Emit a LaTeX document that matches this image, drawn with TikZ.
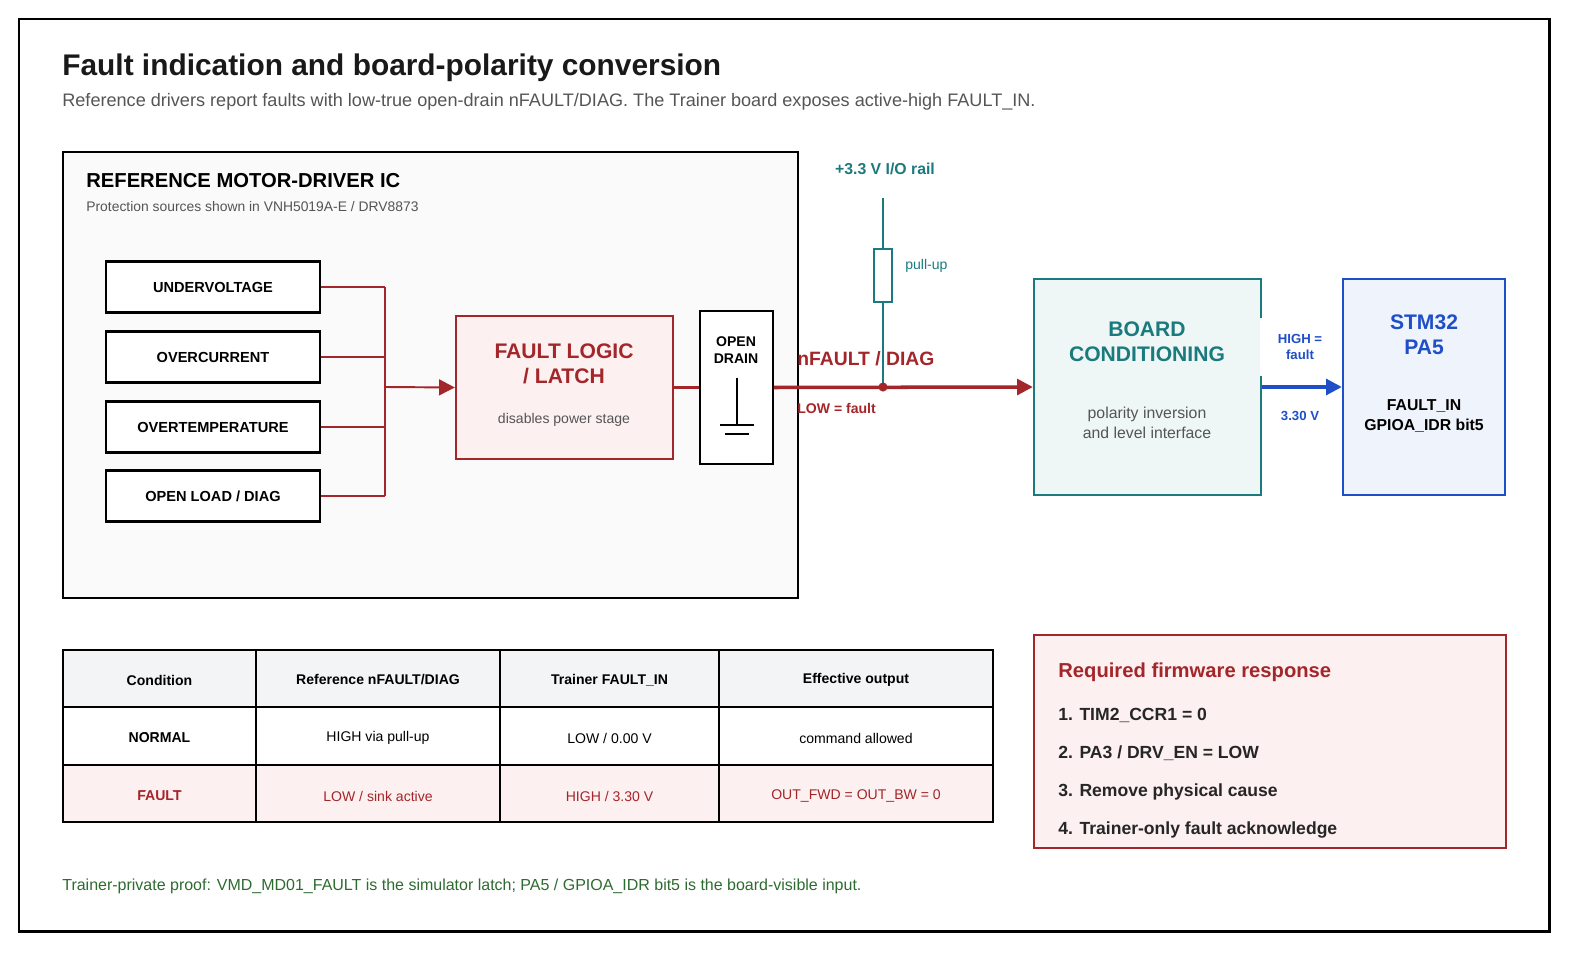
\documentclass[tikz,border=0pt]{standalone}
\usepackage{fontspec}
\setmainfont{Liberation Sans}
\usetikzlibrary{arrows.meta}
\definecolor{darkred}{HTML}{A3262A}
\definecolor{teal}{HTML}{1B7A7E}
\definecolor{blueic}{HTML}{1F4FC8}
\definecolor{greentxt}{HTML}{2E6B30}
\definecolor{redfill}{HTML}{FDF0F0}
\definecolor{grayfill}{HTML}{F3F4F6}
\definecolor{txtgray}{HTML}{555555}
\tikzset{
  box/.style={draw=black,line width=1.3pt},
  src/.style={box,fill=white,minimum width=214*0.02cm,minimum height=51*0.02cm,inner sep=0pt,font=\fontsize{8.3}{10}\selectfont\bfseries},
  cell/.style={inner sep=0pt,font=\fontsize{8}{10}\selectfont},
  bus/.style={darkred,line width=1.1pt},
  lbl/.style={inner sep=0pt,align=center},
}
\begin{document}
\begin{tikzpicture}[x=0.02cm,y=-0.02cm,>={Triangle[length=9pt,width=9pt]}]

%Rahmen
\useasboundingbox (0,0) rectangle (1573,953);
\draw[line width=1.7pt] (19,19) rectangle (1549,931);

%Titel
\node[anchor=base west,inner sep=0pt,font=\fontsize{17}{20}\selectfont\bfseries,text=black!90] (title) at (62,76) {Fault indication and board-polarity conversion};
\node[anchor=base west,inner sep=0pt,font=\fontsize{10.3}{12}\selectfont,text=txtgray] (subtitle) at (62,107) {Reference drivers report faults with low-true open-drain nFAULT/DIAG. The Trainer board exposes active-high FAULT\_IN.};

%Treiber-IC
\draw[box,fill=black!2] (63,152) rectangle (798,598);
\node[anchor=base west,inner sep=0pt,font=\fontsize{11.5}{14}\selectfont\bfseries] (ictitle) at (86,188) {REFERENCE MOTOR-DRIVER IC};
\node[anchor=base west,inner sep=0pt,font=\fontsize{7.9}{10}\selectfont,text=txtgray] (icsub) at (86,212) {Protection sources shown in VNH5019A-E / DRV8873};

\foreach \name/\txt/\y in {uv/UNDERVOLTAGE/287,oc/OVERCURRENT/357,ot/OVERTEMPERATURE/427,ol/{OPEN LOAD / DIAG}/496}{
  \node[src] (\name) at (213,\y) {\txt};
  \draw[bus] (\name.east) -- (385,\y);
}
\draw[bus] (385,287) -- (385,496);

\node[box,draw=darkred,fill=redfill,minimum width=217*0.02cm,minimum height=143*0.02cm] (logic) at (564.5,387.5) {};
\node[lbl,text=darkred,font=\fontsize{12}{14}\selectfont\bfseries] (logictxt) at (564,364) {FAULT LOGIC\\/ LATCH};
\node[lbl,text=txtgray,font=\fontsize{8}{10}\selectfont] (logicsub) at (564,420) {disables power stage};
\draw[bus,->] (385,387) -- (logic.west);

\node[box,fill=white,minimum width=73*0.02cm,minimum height=153*0.02cm,inner sep=0pt] (od) at (736.5,387.5) {};
\node[lbl,font=\fontsize{8}{10}\selectfont\bfseries] (odtxt) at (736,350) {OPEN\\DRAIN};
\draw[line width=1.1pt] (737,378) -- (737,425) (720,425) -- (754,425) (725,434) -- (749,434);
\draw[bus,line width=1.5pt] (logic.east) -- (od.west);

%Pull-up
\coordinate (node1) at (883,387);
\node[inner sep=0pt,font=\fontsize{9}{11}\selectfont\bfseries,text=teal] (rail) at (885,169) {+3.3 V I/O rail};
\node[draw=teal,line width=1.3pt,minimum width=18*0.02cm,minimum height=53*0.02cm,inner sep=0pt] (rpu) at (883,275.5) {};
\node[anchor=west,inner sep=0pt,font=\fontsize{8}{10}\selectfont,text=teal] (rputxt) at (905,266) {pull-up};
\draw[teal,line width=1.3pt] (883,198) -- (rpu.north) (rpu.south) -- (node1);

%Platine
\node[box,draw=teal,fill=teal!7,minimum width=227*0.02cm,minimum height=216*0.02cm] (board) at (1147.5,387) {};
\node[lbl,text=teal,font=\fontsize{12}{14}\selectfont\bfseries] (boardtxt) at (1147,342) {BOARD\\CONDITIONING};
\node[lbl,text=txtgray,font=\fontsize{9}{11}\selectfont] (boardsub) at (1147,423) {polarity inversion\\and level interface};

\draw[darkred,line width=2pt,->] (od.east) -- (board.west);
\fill[darkred] (node1) circle (2.6pt);
\node[anchor=base west,inner sep=0pt,text=darkred,font=\fontsize{11}{13}\selectfont\bfseries] (nfault) at (797,365) {nFAULT / DIAG};
\node[anchor=base west,inner sep=0pt,text=darkred,font=\fontsize{8}{10}\selectfont\bfseries] (lowf) at (797,413) {LOW = fault};

%STM32
\node[box,draw=blueic,fill=blueic!7,minimum width=162*0.02cm,minimum height=216*0.02cm] (stm) at (1424,387) {};
\node[lbl,text=blueic,font=\fontsize{12}{14}\selectfont\bfseries] (stmtxt) at (1424,335) {STM32\\PA5};
\node[lbl,font=\fontsize{9}{11}\selectfont\bfseries] (stmsub) at (1424,416) {FAULT\_IN\\GPIOA\_IDR bit5};
\draw[blueic,line width=2pt,->] (board.east) -- (stm.west);
\node[lbl,fill=white,minimum width=80*0.02cm,minimum height=58*0.02cm,text=blueic,font=\fontsize{7.5}{9.5}\selectfont\bfseries] (highf) at (1300,347) {HIGH =\\fault};
\node[lbl,text=blueic,font=\fontsize{7.5}{9.5}\selectfont\bfseries] (volt) at (1300,416) {3.30 V};

%Tabelle
\fill[grayfill] (63,650) rectangle (993,707);
\fill[redfill] (63,765) rectangle (993,822);
\draw[line width=1.3pt] (63,650) rectangle (993,822) (63,707) -- (993,707) (63,765) -- (993,765);
\foreach \x in {256,500,719} \draw[line width=1.3pt] (\x,650) -- (\x,822);
\foreach \x/\a/\b/\c [count=\i] in {159.5/{Condition}/{NORMAL}/{FAULT},378/{Reference nFAULT/DIAG}/{HIGH via pull-up}/{LOW / sink active},609.5/{Trainer FAULT\_IN}/{LOW / 0.00 V}/{HIGH / 3.30 V},856/{Effective output}/{command allowed}/{OUT\_FWD = OUT\_BW = 0}}{
  \node[cell,font=\fontsize{8}{10}\selectfont\bfseries] (h\i) at (\x,680) {\a};
  \node[cell] (n\i) at (\x,738) {\b};
  \node[cell,text=darkred] (f\i) at (\x,796) {\c};
}
\node[cell,fill=white,font=\fontsize{8}{10}\selectfont\bfseries] at (n1) {NORMAL};
\node[cell,fill=redfill,text=darkred,font=\fontsize{8}{10}\selectfont\bfseries] at (f1) {FAULT};

%Firmware
\draw[box,draw=darkred,fill=redfill] (1034,635) rectangle (1506,848);
\node[anchor=base west,inner sep=0pt,text=darkred,font=\fontsize{11.5}{14}\selectfont\bfseries] (fwtitle) at (1058,677) {Required firmware response};
\foreach \t [count=\i] in {{1. TIM2\_CCR1 = 0},{2. PA3 / DRV\_EN = LOW},{3. Remove physical cause},{4. Trainer-only fault acknowledge}}
  \node[anchor=base west,inner sep=0pt,text=black!85,font=\fontsize{10}{12}\selectfont\bfseries] (fw\i) at (1058,720+38*\i-38) {\t};

%Fussnote
\node[anchor=base west,inner sep=0pt,text=greentxt,font=\fontsize{9.1}{11}\selectfont] (proof) at (62,890) {Trainer-private proof: VMD\_MD01\_FAULT is the simulator latch; PA5 / GPIOA\_IDR bit5 is the board-visible input.};

\end{tikzpicture}
\end{document}
